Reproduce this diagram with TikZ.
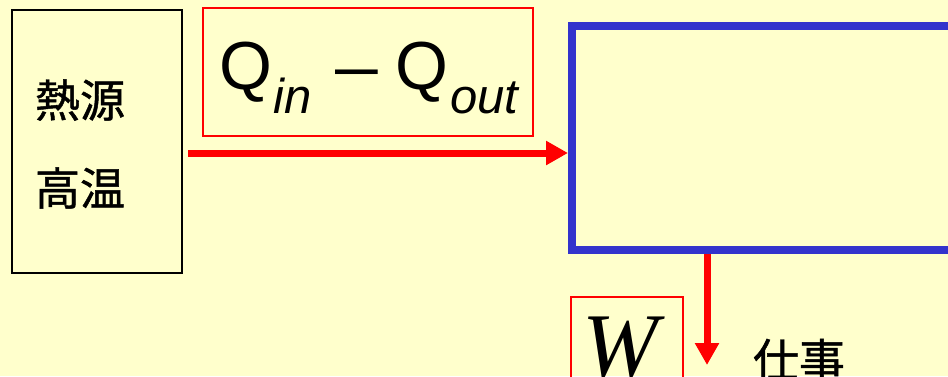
\documentclass[tikz,border=0pt]{standalone}
\usepackage{fontspec}
\setmainfont{Liberation Sans}
\newfontfamily\cjk[FakeBold=1]{Noto Sans CJK JP}
\newfontfamily\timesit{Liberation Serif}
\usetikzlibrary{arrows.meta}
\definecolor{bgyellow}{HTML}{FFFFCC}
\definecolor{engblue}{HTML}{3333CC}
\definecolor{hotred}{HTML}{FF0000}
\tikzset{
  plainbox/.style={draw=black, line width=1.5pt, rectangle, inner sep=0pt},
  redbox/.style={draw=hotred, line width=1.2pt, rectangle, inner sep=0pt},
  engbox/.style={draw=engblue, line width=8pt, rectangle, inner sep=0pt},
  flow/.style={draw=hotred, line width=7pt, -{Triangle[length=22pt,width=23pt]}},
  cjklabel/.style={inner sep=0pt, font=\cjk\fontsize{45}{45}\selectfont},
  bigsym/.style={inner sep=0pt, anchor=base west, font=\fontsize{68}{68}\selectfont},
  subsym/.style={inner sep=0pt, anchor=base west, font=\fontsize{49}{49}\selectfont\itshape},
}
\begin{document}
\begin{tikzpicture}[x=1pt,y=-1pt]
\fill[bgyellow] (0,0) rectangle (948,376);
\useasboundingbox (0,0) rectangle (948,376);
\clip (0,0) rectangle (948,376);
% source box
\node[plainbox, minimum width=170pt, minimum height=263pt] (src) at (97,141.5) {};
\node[cjklabel] (t1) at (80,100) {熱源};
\node[cjklabel] (t2) at (80,188) {高温};
% heat label box
\node[redbox, minimum width=330pt, minimum height=128pt] (qbox) at (368,72) {};
\node[bigsym] (q1) at (219,89) {Q};
\node[subsym] (qin) at (273,113) {in};
\node[bigsym] (qm) at (335,89) {\scalebox{1.13}[1]{–}};
\node[bigsym] (q2) at (395,89) {Q};
\node[subsym] (qout) at (450,113) {out};
% engine box
\node[engbox, minimum width=628pt, minimum height=224pt] (engine) at (886,138) {};
% work box
\node[redbox, minimum width=112pt, minimum height=123pt] (wbox) at (627,358.5) {};
\node[inner sep=0pt, anchor=base west, font=\timesit\itshape\fontsize{91}{91}\selectfont] (w) at (582,376) {W};
\node[cjklabel, font=\cjk\fontsize{46}{46}\selectfont] (work) at (799,360) {仕事};
% arrows
\coordinate (hstart) at (188,153);
\coordinate (wtip) at (707,365);
\draw[flow] (hstart) -- (engine.west |- hstart);
\draw[flow] (engine.south -| wtip) -- (wtip);
\end{tikzpicture}
\end{document}
